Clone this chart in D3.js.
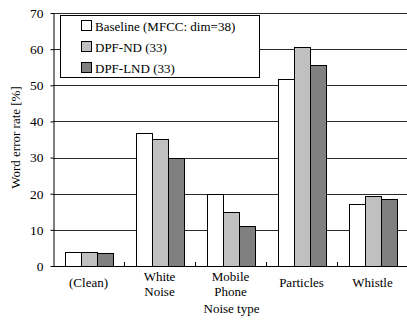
<!DOCTYPE html>
<html><head><meta charset="utf-8">
<script src="https://cdn.jsdelivr.net/npm/d3@7"></script>
<style>body{margin:0;background:#fff}</style>
</head><body><svg id="c" width="407" height="322" font-family="Liberation Serif"></svg>
<script>
const categories = [["(Clean)"], ["White", "Noise"], ["Mobile", "Phone"], ["Particles"], ["Whistle"]];
const seriesNames = ["Baseline (MFCC: dim=38)", "DPF-ND (33)", "DPF-LND (33)"];
const baseline = [3.8, 36.7, 20.0, 51.7, 17.2];
const dpfND = [3.8, 35.1, 15.0, 60.5, 19.4];
const dpfLND = [3.5, 30.0, 11.1, 55.5, 18.5];
const yTicks = [0, 10, 20, 30, 40, 50, 60, 70];
const colors = ["#ffffff", "#c0c0c0", "#808080"];

const FONT = "Liberation Serif";
const series = [baseline, dpfND, dpfLND];
const svg = d3.select("#c");
const m = {l: 53, t: 13, r: 408, b: 266};
const x = d3.scaleBand().domain(d3.range(categories.length)).range([m.l, m.r]).paddingInner(0).paddingOuter(0);
const y = d3.scaleLinear().domain([0, 70]).range([m.b, m.t]);
const groupW = 48;
const xs = d3.scaleBand().domain(d3.range(series.length)).range([0, groupW]);

// gridlines
svg.append("g").selectAll("line").data(yTicks.filter(d => d > 0)).join("line")
  .attr("x1", m.l).attr("x2", m.r).attr("y1", d => Math.round(y(d)) + 0.5).attr("y2", d => Math.round(y(d)) + 0.5)
  .attr("stroke", "#2a2a2a").attr("stroke-width", 1);

// bars
series.forEach((s, si) => {
  svg.append("g").selectAll("rect").data(s).join("rect")
    .attr("x", (d, i) => Math.round(x(i) + (x.bandwidth() - groupW) / 2 + xs(si)) + 0.5)
    .attr("y", d => Math.round(y(d)) + 0.5)
    .attr("width", xs.bandwidth())
    .attr("height", d => m.b - Math.round(y(d)))
    .attr("fill", colors[si]).attr("stroke", "#000").attr("stroke-width", 1);
});

// y axis
const ya = svg.append("g").attr("transform", `translate(${m.l + 0.5},0)`)
  .call(d3.axisLeft(y).tickValues(yTicks).tickSizeInner(3).tickSizeOuter(0).tickPadding(7));
ya.attr("font-family", FONT);
ya.select(".domain").attr("stroke", "#000").attr("stroke-width", 1);
ya.selectAll(".tick line").attr("stroke", "#000");
ya.selectAll("text").attr("font-family", FONT).attr("font-size", 13.5).attr("fill", "#000");

// x axis line
svg.append("line").attr("x1", m.l).attr("x2", m.r).attr("y1", m.b + 0.5).attr("y2", m.b + 0.5)
  .attr("stroke", "#000");
// category separator ticks
svg.append("g").selectAll("line").data(d3.range(1, categories.length)).join("line")
  .attr("x1", d => Math.round(x(d)) + 0.5).attr("x2", d => Math.round(x(d)) + 0.5)
  .attr("y1", m.b).attr("y2", m.b - 4).attr("stroke", "#000");

// category labels
const cl = svg.append("g").selectAll("text").data(categories).join("text")
  .attr("text-anchor", "middle").attr("font-family", FONT).attr("font-size", 13).attr("fill", "#000")
  .attr("transform", (d, i) => `translate(${x(i) + x.bandwidth() / 2},0)`);
cl.each(function(lines) {
  const t = d3.select(this);
  const y0 = lines.length === 1 ? 287 : 281;
  lines.forEach((ln, k) => t.append("tspan").attr("x", 0).attr("y", y0 + k * 14.5).text(ln));
});

// axis titles
svg.append("text").attr("x", (m.l + m.r) / 2 + 1).attr("y", 313).attr("text-anchor", "middle")
  .attr("font-family", FONT).attr("font-size", 13).text("Noise type");
svg.append("text").attr("transform", `translate(20,${(m.t + m.b) / 2 - 2}) rotate(-90)`)
  .attr("text-anchor", "middle").attr("font-family", FONT).attr("font-size", 13).text("Word error rate [%]");

// legend
const lg = svg.append("g");
lg.append("rect").attr("x", 60.5).attr("y", 15.5).attr("width", 199).attr("height", 62)
  .attr("fill", "#fff").attr("stroke", "#000");
seriesNames.forEach((n, i) => {
  const cy = 26 + i * 21;
  lg.append("rect").attr("x", 81.5).attr("y", cy - 5.5).attr("width", 10).attr("height", 10)
    .attr("fill", colors[i]).attr("stroke", "#000");
  lg.append("text").attr("x", 95).attr("y", cy + 4.5).attr("font-family", FONT).attr("font-size", 13).text(n);
});
</script></body></html>
